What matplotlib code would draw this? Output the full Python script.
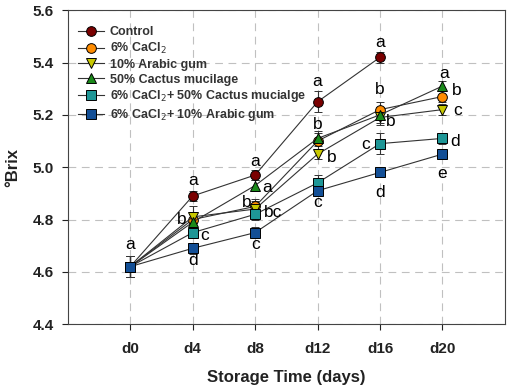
import matplotlib
matplotlib.use('Agg')
from matplotlib import pyplot as plt
from matplotlib.lines import Line2D

plt.rcParams['font.family'] = ['Liberation Sans', 'DejaVu Sans']

days = ['d0', 'd4', 'd8', 'd12', 'd16', 'd20']

# mean Brix values per treatment (None = no measurement)
control = [4.62, 4.89, 4.97, 5.25, 5.42, None]
cacl2 = [4.62, 4.80, 4.85, 5.10, 5.22, 5.27]
arabic = [4.62, 4.81, 4.84, 5.05, 5.19, 5.22]
cactus = [4.62, 4.79, 4.93, 5.11, 5.20, 5.31]
cacl2_cactus = [4.62, 4.75, 4.82, 4.94, 5.09, 5.11]
cacl2_arabic = [4.62, 4.69, 4.75, 4.91, 4.98, 5.05]

# standard errors
control_err = [0.04, 0.02, 0.02, 0.04, 0.02, None]
cacl2_err = [0.04, 0.03, 0.03, 0.03, 0.03, 0.02]
arabic_err = [0.04, 0.04, 0.03, 0.02, 0.03, 0.02]
cactus_err = [0.04, 0.03, 0.02, 0.03, 0.03, 0.02]
cacl2_cactus_err = [0.04, 0.02, 0.02, 0.03, 0.04, 0.02]
cacl2_arabic_err = [0.04, 0.02, 0.02, 0.02, 0.01, 0.02]

labels = ['Control', '6% CaCl$_2$', '10% Arabic gum', '50% Cactus mucilage',
          '6% CaCl$_2$+ 50% Cactus mucialge', '6% CaCl$_2$+ 10% Arabic gum']

series = [control, cacl2, arabic, cactus, cacl2_cactus, cacl2_arabic]
errors = [control_err, cacl2_err, arabic_err, cactus_err, cacl2_cactus_err, cacl2_arabic_err]
colors = ['#7a0000', '#ff8c00', '#c8c800', '#1a8a1a', '#1e9696', '#134f96']
markers = ['o', 'o', 'v', '^', 's', 's']

# significance letters: (series index, day index, letter, dx px, dy px)
letters = [
    (5, 0, 'a', 0, 22),
    (0, 1, 'a', 0, 15), (1, 1, 'b', -11, 0), (4, 1, 'c', 12, -3), (5, 1, 'd', 0, -12),
    (0, 2, 'a', 0, 14), (3, 2, 'a', 12, -2), (1, 2, 'b', -8, 4), (4, 2, 'bc', 18, 2), (5, 2, 'c', 0, -12),
    (0, 3, 'a', 0, 20), (3, 3, 'b', 0, 14), (2, 3, 'b', 14, -3), (5, 3, 'c', 0, -12),
    (0, 4, 'a', 0, 15), (1, 4, 'b', 0, 20), (2, 4, 'b', 11, -4), (4, 4, 'c', -14, -1), (5, 4, 'd', 0, -20),
    (3, 5, 'a', 2, 13), (1, 5, 'b', 14, 6), (2, 5, 'c', 15, -1), (4, 5, 'd', 13, -3), (5, 5, 'e', 0, -19),
]

fig = plt.figure(figsize=(5.1, 3.92), dpi=100)
ax = fig.add_axes([0.133, 0.173, 0.857, 0.801])

x = list(range(len(days)))
handles = []
for vals, errs, c, m, lab in zip(series, errors, colors, markers, labels):
    xs = [i for i, v in zip(x, vals) if v is not None]
    ys = [v for v in vals if v is not None]
    es = [e for e in errs if e is not None]
    ax.errorbar(xs, ys, yerr=es, color='#333333', lw=0.8, capsize=3, elinewidth=0.8,
                marker=m, markersize=7, markerfacecolor=c, markeredgecolor='black',
                markeredgewidth=0.7, zorder=3)
    handles.append(Line2D([], [], color='#333333', lw=0.8, marker=m, markersize=7,
                          markerfacecolor=c, markeredgecolor='black', markeredgewidth=0.7,
                          label=lab))

for si, di, txt, dx, dy in letters:
    ax.annotate(txt, (x[di], series[si][di]), xytext=(dx, dy), textcoords='offset pixels',
                ha='center', va='center', fontsize=12.5, color='black', zorder=5)

ax.set_xlim(-1, 6)
ax.set_ylim(4.4, 5.6)
ax.set_xticks(x)
ax.set_xticklabels(days)
ax.set_yticks([4.4, 4.6, 4.8, 5.0, 5.2, 5.4, 5.6])
ax.set_yticklabels(['4.4', '4.6', '4.8', '5.0', '5.2', '5.4', '5.6'])
ax.grid(True, linestyle=(0, (7, 5)), color='#c0c0c0', lw=0.8, zorder=0)
ax.tick_params(direction='out', length=4, labelsize=11, colors='#222222')
ax.tick_params(axis='x', pad=9)
ax.tick_params(axis='y', pad=6)
for lbl in ax.get_xticklabels() + ax.get_yticklabels():
    lbl.set_fontweight('bold')
for sp in ax.spines.values():
    sp.set_color('#444444')

ax.set_xlabel('Storage Time (days)', fontsize=12, fontweight='bold', color='#222222', labelpad=10)
ax.set_ylabel('°Brix', fontsize=12, fontweight='bold', color='#222222', labelpad=9)

leg = ax.legend(handles=handles, loc='upper left', bbox_to_anchor=(0.012, 0.965),
                frameon=False, fontsize=9, handlelength=2.1, labelspacing=0.22,
                borderaxespad=0.2, handletextpad=0.45, borderpad=0.2)
for t in leg.get_texts():
    t.set_fontweight('bold')
    t.set_color('#333333')

fig.savefig('out.png', dpi=100)
